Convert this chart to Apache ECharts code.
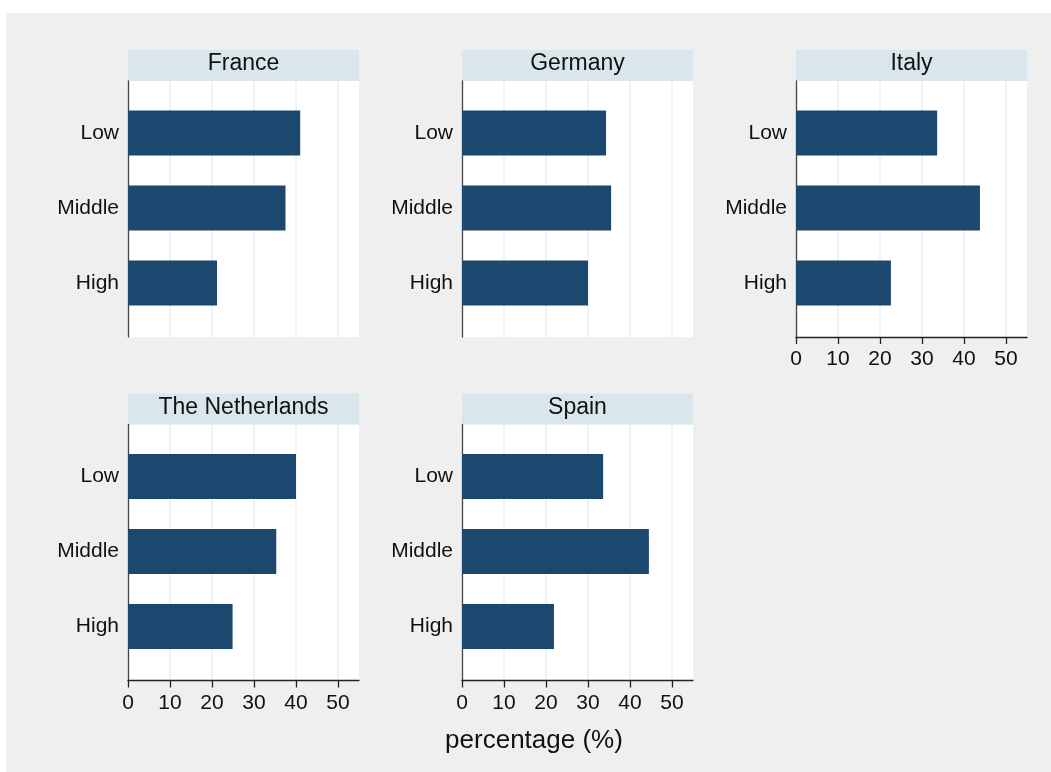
<!DOCTYPE html>
<html>
<head>
<meta charset="utf-8">
<script src="https://cdn.jsdelivr.net/npm/echarts@6/dist/echarts.min.js"></script>
<style>
  html, body { margin: 0; padding: 0; background: #ffffff; width: 1051px; height: 772px; overflow: hidden; }
  #c { position: absolute; left: 6px; top: 13px; width: 1045px; height: 759px; background: #efefef; }
</style>
</head>
<body>
<div id="c"></div>
<script>
// ---- data ----
const categories = ['Low', 'Middle', 'High'];
const countries = ['France', 'Germany', 'Italy', 'The Netherlands', 'Spain'];
const france = [41.0, 37.5, 21.2];
const germany = [34.3, 35.5, 30.0];
const italy = [33.6, 43.8, 22.6];
const netherlands = [40.0, 35.3, 24.9];
const spain = [33.6, 44.5, 21.9];
const xTicks = [0, 10, 20, 30, 40, 50];
const xMax = 55;
const axisTitle = 'percentage (%)';

// ---- layout ----
const OX = 6, OY = 13;
const colLeft = [128, 462, 796];
const stripTop = [50, 393.5];
const panelW = 231, stripH = 31, plotH = 256;
const FONT = '"Liberation Sans", Arial, Helvetica, sans-serif';
const BAR = '#1c4870', STRIP = '#d9e6eb', GRIDC = '#e8eff2', TXT = '#111111';

const panels = [
  { name: countries[0], data: france, col: 0, row: 0, showX: false },
  { name: countries[1], data: germany, col: 1, row: 0, showX: false },
  { name: countries[2], data: italy, col: 2, row: 0, showX: true },
  { name: countries[3], data: netherlands, col: 0, row: 1, showX: true },
  { name: countries[4], data: spain, col: 1, row: 1, showX: true }
];

const grid = [], xAxis = [], yAxis = [], series = [], graphic = [];

panels.forEach((p, i) => {
  const left = colLeft[p.col] - OX;
  const sTop = stripTop[p.row] - OY;
  const pTop = sTop + stripH;
  const a = 2 * i, b = 2 * i + 1;

  grid.push({ left: left, top: pTop, width: panelW, height: plotH, show: true,
              backgroundColor: '#ffffff', borderWidth: 0, containLabel: false });
  grid.push({ left: left, top: pTop + 14.5, width: panelW, height: 225, containLabel: false });

  xAxis.push({
    type: 'value', gridIndex: a, min: 0, max: xMax, interval: 10,
    axisLine: { show: p.showX, onZero: false, lineStyle: { color: '#222', width: 1.3 } },
    axisTick: { show: p.showX, length: 7, customValues: xTicks, lineStyle: { color: '#222', width: 1.3 } },
    axisLabel: { show: p.showX, customValues: xTicks, fontSize: 21, color: TXT, fontFamily: FONT, margin: 12 },
    splitLine: { show: true, lineStyle: { color: GRIDC, width: 1.5 } }
  });
  yAxis.push({
    type: 'value', gridIndex: a, min: 0, max: 1,
    axisLine: { show: true, onZero: false, lineStyle: { color: '#444', width: 1.3 } },
    axisTick: { show: false }, axisLabel: { show: false }, splitLine: { show: false }
  });

  xAxis.push({ type: 'value', gridIndex: b, min: 0, max: xMax, show: false });
  yAxis.push({
    type: 'category', gridIndex: b, data: categories, inverse: true,
    axisLine: { show: false }, axisTick: { show: false },
    axisLabel: { fontSize: 21, color: TXT, fontFamily: FONT, margin: 9, padding: [4, 0, 0, 0] }
  });

  series.push({
    type: 'bar', xAxisIndex: b, yAxisIndex: b, data: p.data, barWidth: '60%',
    itemStyle: { color: BAR }, silent: true, animation: false
  });

  graphic.push({
    type: 'rect', shape: { x: left, y: sTop, width: panelW, height: stripH },
    style: { fill: STRIP }, silent: true
  });
  graphic.push({
    type: 'text', x: left + panelW / 2, y: sTop + 13.8,
    style: { text: p.name, fill: TXT, font: '23px ' + FONT, textAlign: 'center', textVerticalAlign: 'middle' },
    silent: true
  });
});

graphic.push({
  type: 'text', x: 534 - OX, y: 741 - OY,
  style: { text: axisTitle, fill: TXT, font: '26px ' + FONT, textAlign: 'center', textVerticalAlign: 'middle' },
  silent: true
});

const chart = echarts.init(document.getElementById('c'), null, { renderer: 'canvas' });
chart.setOption({
  animation: false,
  backgroundColor: 'transparent',
  grid: grid, xAxis: xAxis, yAxis: yAxis, series: series, graphic: graphic
});
</script>
</body>
</html>
